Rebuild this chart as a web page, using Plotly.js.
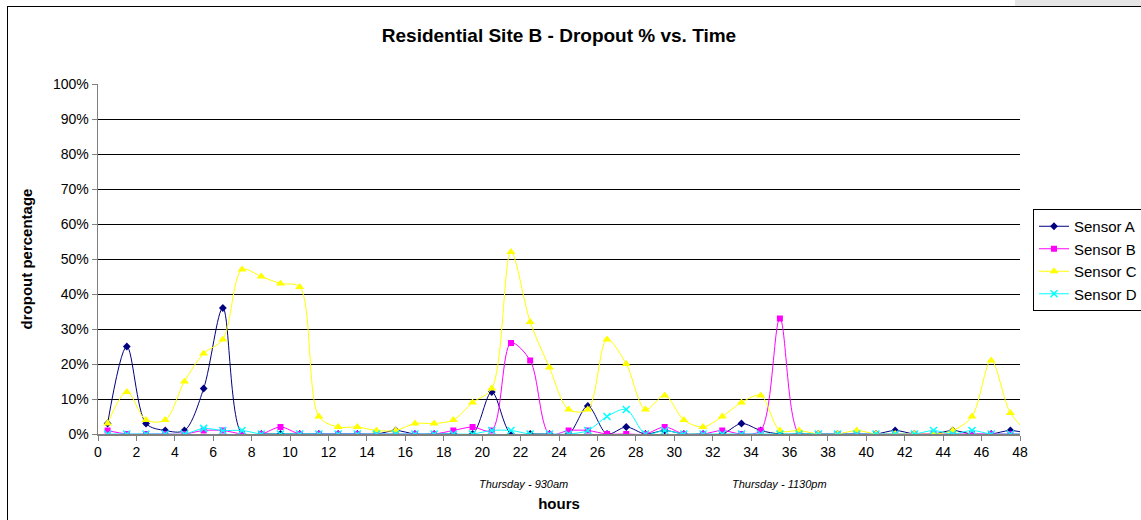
<!DOCTYPE html>
<html>
<head>
<meta charset="utf-8">
<script src="https://cdn.plot.ly/plotly-3.0.1.min.js"></script>
<style>
html,body{margin:0;padding:0;background:#fff;}
#wrap{position:relative;width:1141px;height:520px;overflow:hidden;}
#chart{position:absolute;left:0;top:0;width:1141px;height:520px;}
#frame{position:absolute;left:7px;top:6px;width:1200px;height:600px;border-left:1.5px solid #000;border-top:1.5px solid #000;pointer-events:none;}
#corner{position:absolute;left:1015px;top:0;width:126px;height:6px;background:#e6e6e6;}
</style>
</head>
<body>
<div id="wrap">
<div id="chart"></div>
<div id="corner"></div>
<div id="frame"></div>
</div>
<script>
// hours (half-hour points)
var hours = [0.5,1.5,2.5,3.5,4.5,5.5,6.5,7.5,8.5,9.5,10.5,11.5,12.5,13.5,14.5,15.5,16.5,17.5,18.5,19.5,20.5,21.5,22.5,23.5,24.5,25.5,26.5,27.5,28.5,29.5,30.5,31.5,32.5,33.5,34.5,35.5,36.5,37.5,38.5,39.5,40.5,41.5,42.5,43.5,44.5,45.5,46.5,47.5,48.5];
var sensorA = [3,25,3,1,1,13,36,0,0,0,0,0,0,0,0,1,0,0,0,0,12,0,0,0,0,8,0,2,0,1,0,0,0,3,1,0,0,0,0,0,0,1,0,0,1,0,0,1,0];
var sensorB = [1,0,0,0,0,1,1,0,0,2,0,0,0,0,0,0,0,0,1,2,1,26,21,0,1,1,0,0,0,2,0,0,1,0,1,33,0,0,0,0,0,0,0,0,0,0,0,0,0];
var sensorC = [3,12,4,4,15,23,27,47,45,43,42,5,2,2,1,1,3,3,4,9,13,52,32,19,7,7,27,20,7,11,4,2,5,9,11,1,1,0,0,1,0,0,0,0,1,5,21,6,0];
var sensorD = [0,0,0,0,0,1.6,1,1,0,0,0,0,0,0,0,0,0,0,0,0,1,1,0,0,0,1,5,7,0,1,0,0,0,0,0,0,0,0,0,0,0,0,0,1,0,1,0,0,0];
var seriesNames = ["Sensor A","Sensor B","Sensor C","Sensor D"];
var xTicks = [0,2,4,6,8,10,12,14,16,18,20,22,24,26,28,30,32,34,36,38,40,42,44,46,48];
var yTicks = [0,10,20,30,40,50,60,70,80,90,100];
var noteText = ["Thursday - 930am","Thursday - 1130pm"];
var noteX = [22.15,35.48];

var colors = ["#000080","#FF00FF","#FFFF00","#00FFFF"];
var symbols = ["diamond","square","triangle-up","x-thin-open"];
var sizes = [6,6,8,7];
var data = [sensorA,sensorB,sensorC,sensorD];
var traces = data.map(function(vals,i){
  return {
    x: hours, y: vals, name: seriesNames[i], type:"scatter", mode:"lines+markers",
    line:{color:colors[i], width:1, shape:"spline", smoothing:0.9},
    marker:{symbol:symbols[i], size:sizes[i], color:colors[i], line:{color:colors[i], width: i===3?1.5:0}},
    cliponaxis:true
  };
});

var font = "Liberation Sans, Arial, sans-serif";
var layout = {
  width:1141, height:520,
  margin:{l:98, r:121, t:84, b:86, autoexpand:false},
  paper_bgcolor:"#fff", plot_bgcolor:"#fff",
  font:{family:font, size:14, color:"#000"},
  title:{text:"<b>Residential Site B - Dropout % vs. Time</b>", x:0.5, xref:"paper", y:1-35/520, yanchor:"middle", font:{family:font, size:19, color:"#000"}},
  showlegend:true,
  legend:{xref:"container", yref:"container", x:1033/1141, xanchor:"left", y:1-209/520, yanchor:"top", bordercolor:"#000", borderwidth:1, bgcolor:"#fff", font:{family:font, size:15}, itemwidth:30, tracegroupgap:0},
  xaxis:{
    range:[0,48], tickvals:xTicks, ticktext:xTicks.map(String), ticks:"outside", ticklen:5, tickcolor:"#808080",
    showline:true, linecolor:"#808080", linewidth:1.5, showgrid:false, zeroline:false, automargin:false,
    tickfont:{family:font, size:14},
    title:{text:"<b>hours</b>", font:{family:font, size:15}, standoff:39}
  },
  yaxis:{
    range:[0,100], tickvals:yTicks, ticktext:yTicks.map(function(v){return v+"%";}), ticks:"outside", ticklen:5, tickcolor:"#808080",
    showline:true, linecolor:"#808080", linewidth:1.5, showgrid:true, gridcolor:"#000", gridwidth:1, zeroline:false, automargin:false,
    tickfont:{family:font, size:14},
    title:{text:"<b>dropout percentage</b>", font:{family:font, size:15}, standoff:16}
  },
  annotations: noteText.map(function(t,i){
    return {x:noteX[i], xref:"x", y:-0.143, yref:"paper", text:"<i>"+t+"</i>", showarrow:false, font:{family:font, size:11, color:"#000"}, xanchor:"center", yanchor:"middle"};
  })
};
Plotly.newPlot("chart", traces, layout, {displayModeBar:false, staticPlot:true});
</script>
</body>
</html>
